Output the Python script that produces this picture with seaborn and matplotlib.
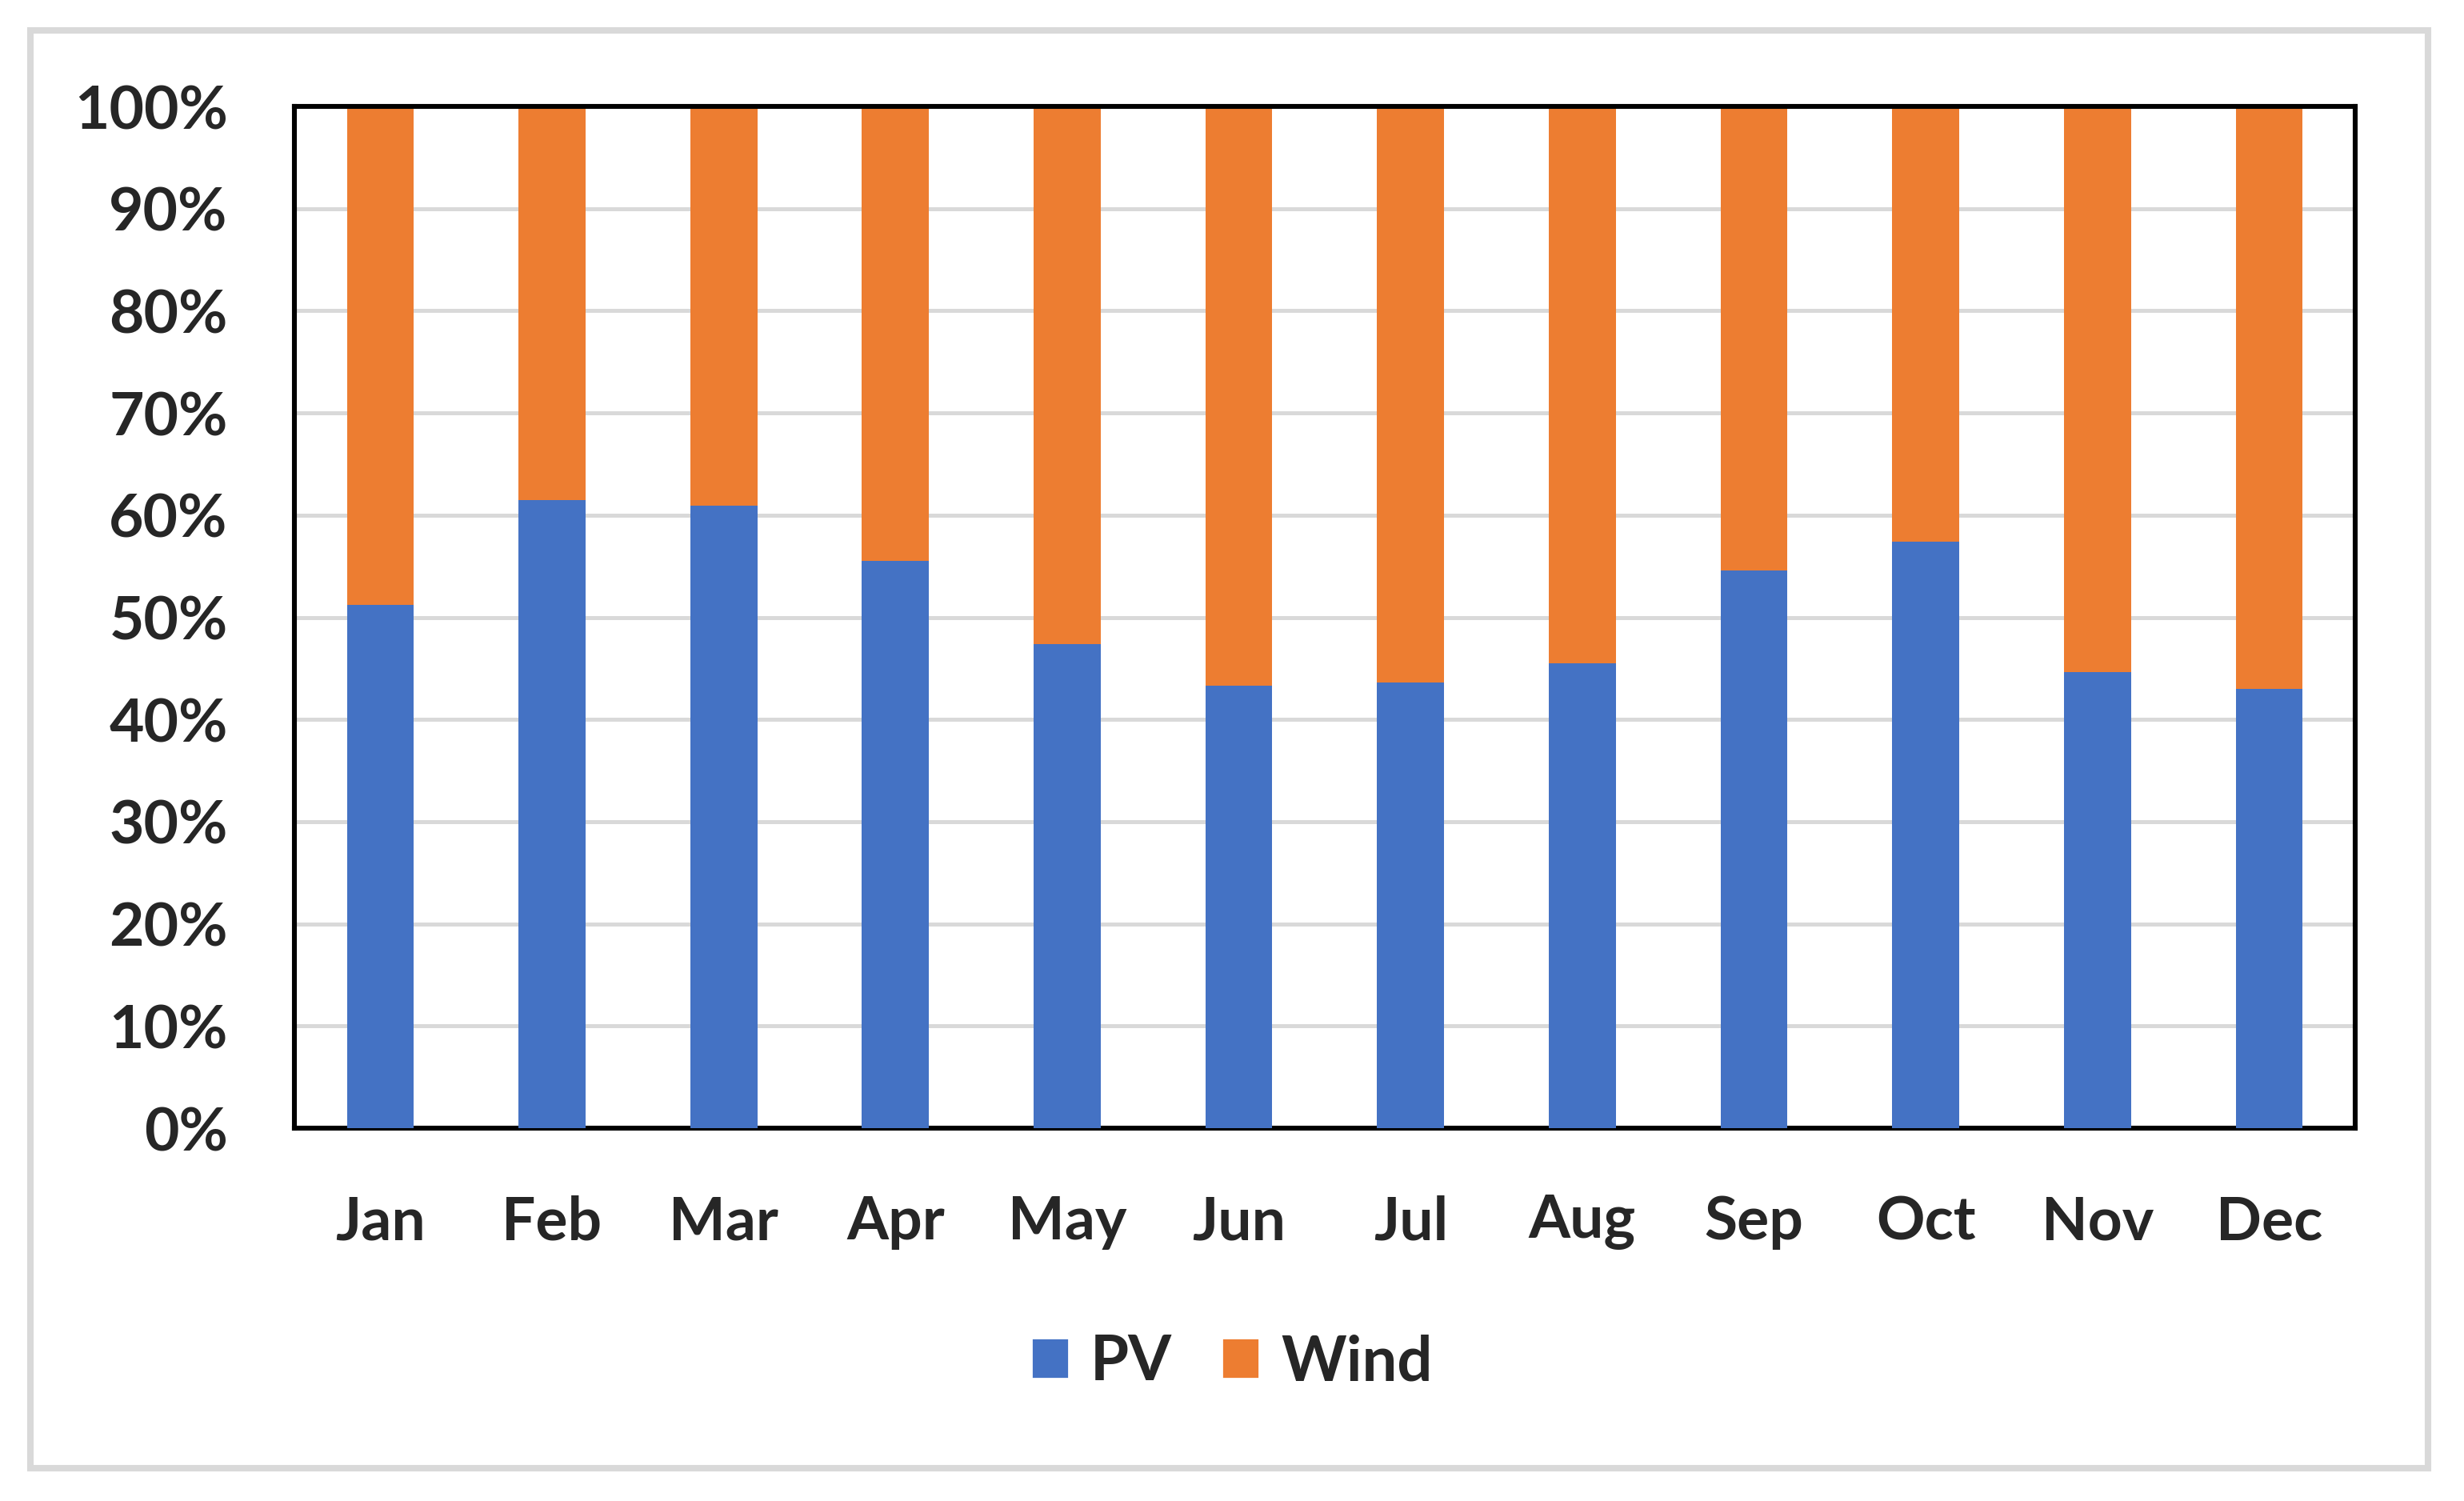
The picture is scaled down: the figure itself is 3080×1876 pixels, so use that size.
import pandas as pd
import matplotlib.pyplot as plt
import seaborn as sns
from matplotlib.patches import Patch, Rectangle
from matplotlib.ticker import PercentFormatter

months = ["Jan", "Feb", "Mar", "Apr", "May", "Jun",
          "Jul", "Aug", "Sep", "Oct", "Nov", "Dec"]
pv_share = [0.512, 0.615, 0.609, 0.555, 0.474, 0.433,
            0.436, 0.455, 0.546, 0.574, 0.446, 0.430]
wind_share = [0.488, 0.385, 0.391, 0.445, 0.526, 0.567,
              0.564, 0.545, 0.454, 0.426, 0.554, 0.570]

pv_color = "#4472C4"
wind_color = "#ED7D31"

df = pd.DataFrame({"month": months, "PV": pv_share, "Wind": wind_share})
df["total"] = df["PV"] + df["Wind"]

sns.set_style("white")
plt.rcParams["font.family"] = ["Lato", "DejaVu Sans"]
plt.rcParams["font.weight"] = "bold"

fig = plt.figure(figsize=(15.4, 9.38), dpi=200)
ax = fig.add_axes([0.1195, 0.2484, 0.8363, 0.6807])

# stacked: wind on top of PV (draw total first, PV over it)
sns.barplot(data=df, x="month", y="total", color=wind_color, width=0.39,
            saturation=1, linewidth=0, ax=ax, zorder=2)
sns.barplot(data=df, x="month", y="PV", color=pv_color, width=0.39,
            saturation=1, linewidth=0, ax=ax, zorder=3)

ax.set_ylim(0, 1)
ax.set_xlim(-0.5, 11.5)
ax.set_yticks([i / 10 for i in range(11)])
ax.yaxis.set_major_formatter(PercentFormatter(1.0, decimals=0))
ax.grid(axis="y", color="#d9d9d9", lw=1.8, zorder=0)
ax.set_axisbelow(True)
ax.set_xlabel("")
ax.set_ylabel("")
ax.tick_params(axis="y", length=0, pad=30, labelsize=27)
ax.tick_params(axis="x", length=0, pad=30, labelsize=27)
for lab in ax.get_xticklabels() + ax.get_yticklabels():
    lab.set_fontweight("bold")
for sp in ax.spines.values():
    sp.set_visible(True)
    sp.set_color("black")
    sp.set_linewidth(2.2)

handles = [Patch(facecolor=pv_color, label="PV"),
           Patch(facecolor=wind_color, label="Wind")]
fig.legend(handles=handles, loc="center", bbox_to_anchor=(0.5, 1 - 1703 / 1876),
           ncol=2, frameon=False, prop={"size": 28, "weight": "bold"},
           handlelength=0.6, handleheight=0.62, handletextpad=0.35,
           columnspacing=0.8)

fig.patches.append(Rectangle((38 / 3080, 1 - 1835 / 1876),
                             (3035 - 38) / 3080, (1835 - 38) / 1876,
                             transform=fig.transFigure, fill=False,
                             edgecolor="#d9d9d9", lw=2.9))

fig.savefig("out.png", dpi=200, facecolor="white")
